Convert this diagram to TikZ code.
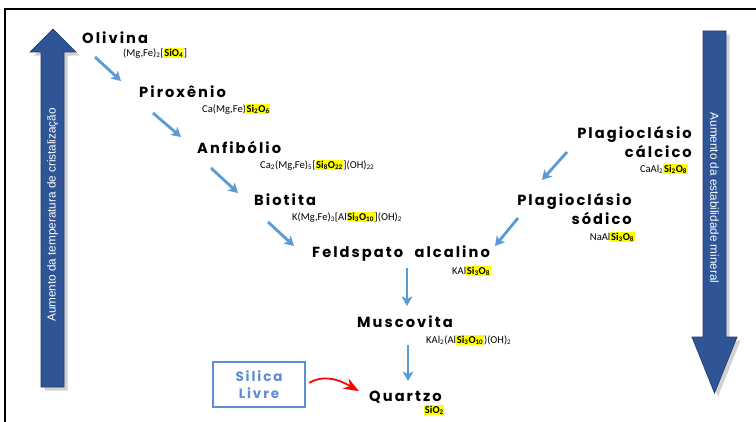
\documentclass[tikz,border=0pt]{standalone}
\usepackage{fontspec}
\usepackage{xcolor}
\usepackage{tikz}
\usetikzlibrary{arrows.meta,positioning,shadows}
\setmainfont{Carlito}
\newfontfamily\namefont[LetterSpace=14, WordSpace=2.2]{Poppins}
\newfontfamily\labelfont{Liberation Sans}
\definecolor{arrowblue}{RGB}{47, 85, 151}
\definecolor{flowblue}{RGB}{91, 155, 213}
\definecolor{boxblue}{RGB}{95, 140, 212}
\definecolor{hilite}{RGB}{255, 255, 0}
\newcommand{\hl}[1]{{\setlength{\fboxsep}{0.6pt}\colorbox{hilite}{\bfseries #1}}}

\begin{document}
\begin{tikzpicture}[x=0.03cm, y=-0.03cm,
    mineral/.style={font=\namefont\bfseries\fontsize{12.5}{15.5}\selectfont, inner sep=0pt},
    formula/.style={font=\fontsize{9}{10}\selectfont, inner sep=0pt},
    flow/.style={flowblue, line width=2.4pt, -{Stealth[length=8pt, width=9pt, inset=2pt]}},
    bigarrow/.style={fill=arrowblue, draw=arrowblue!70!black, line width=0.6pt,
        drop shadow={shadow xshift=3pt, shadow yshift=-3pt, opacity=0.35}},
    sidelabel/.style={font=\labelfont\fontsize{10}{12}\selectfont, text=white, inner sep=0pt}]
    \useasboundingbox (0,0) rectangle (756,422);
    \fill[white] (0,0) rectangle (756,422);
    \draw[line width=1.8pt] (5,9) rectangle (790,460);

    % side arrows
    \filldraw[bigarrow] (41,387) -- (41,52) -- (30,52) -- (53,29) -- (76,52) -- (64,52) -- (64,387) -- cycle;
    \node[sidelabel, rotate=90] (tempLabel) at (52.5,215) {Aumento da temperatura de cristalização};
    \filldraw[bigarrow] (703,31) -- (703,337) -- (692,337) -- (714.5,393) -- (737,337) -- (726,337) -- (726,31) -- cycle;
    \node[sidelabel, rotate=-90] (stabLabel) at (714.5,198) {Aumento da estabilidade mineral};

    % left branch
    \node[mineral, anchor=west] (olivina) at (82,38) {Olivina};
    \node[formula, anchor=west] (fOlivina) at (123,53) {(Mg,Fe)\textsubscript{2}[\hl{SiO\textsubscript{4}}]};
    \node[mineral, anchor=west] (piroxenio) at (139,92) {Piroxênio};
    \node[formula, anchor=west] (fPiroxenio) at (202,109) {Ca(Mg,Fe)\hl{Si\textsubscript{2}O\textsubscript{6}}};
    \node[mineral, anchor=west] (anfibolio) at (197,147) {Anfibólio};
    \node[formula, anchor=west] (fAnfibolio) at (260,165) {Ca\textsubscript{2}(Mg,Fe)\textsubscript{5}[\hl{Si\textsubscript{8}O\textsubscript{22}}](OH)\textsubscript{22}};
    \node[mineral, anchor=west] (biotita) at (254,200) {Biotita};
    \node[formula, anchor=west] (fBiotita) at (292,217) {K(Mg,Fe)\textsubscript{3}[Al\hl{Si\textsubscript{3}O\textsubscript{10}}](OH)\textsubscript{2}};

    % right branch
    \node[mineral, anchor=east, align=right] (plagCalcico) at (692,142) {Plagioclásio\\cálcico};
    \node[formula, anchor=east] (fPlagCalcico) at (688,169) {CaAl\textsubscript{2}\hl{Si\textsubscript{2}O\textsubscript{8}}};
    \node[mineral, anchor=east, align=right] (plagSodico) at (632,209) {Plagioclásio\\sódico};
    \node[formula, anchor=east] (fPlagSodico) at (635,237) {NaAl\hl{Si\textsubscript{3}O\textsubscript{8}}};

    % common branch
    \node[mineral, anchor=west] (feldspato) at (312,254) {Feldspato alcalino};
    \node[formula, anchor=west] (fFeldspato) at (452,271) {KAl\hl{Si\textsubscript{3}O\textsubscript{8}}};
    \node[mineral, anchor=west] (muscovita) at (357,322) {Muscovita};
    \node[formula, anchor=west] (fMuscovita) at (426,340) {KAl\textsubscript{2}(Al\hl{Si\textsubscript{3}O\textsubscript{10}})(OH)\textsubscript{2}};
    \node[mineral, anchor=west] (quartzo) at (369,397) {Quartzo};
    \node[formula, anchor=west] (fQuartzo) at (424,410) {\hl{SiO\textsubscript{2}}};

    \node[draw=boxblue, line width=2.2pt, minimum width=92*0.03cm, minimum height=45*0.03cm,
        align=center, text=boxblue, font=\namefont\bfseries\fontsize{11.5}{15}\selectfont] (silica) at (259,384.5) {Silica\\Livre};

    % arrow ends
    \coordinate (olivinaOut) at (95,57);     \coordinate (piroxenioIn) at (121,81);
    \coordinate (piroxenioOut) at (153,113); \coordinate (anfibolioIn) at (181,137);
    \coordinate (anfibolioOut) at (211,168); \coordinate (biotitaIn) at (238,193);
    \coordinate (biotitaOut) at (268,222);   \coordinate (feldspatoInL) at (294,246);
    \coordinate (calcicoOut) at (567,152);   \coordinate (sodicoIn) at (542,180);
    \coordinate (sodicoOut) at (518,218);    \coordinate (feldspatoInR) at (495,246);
    \coordinate (feldspatoOut) at (407,268); \coordinate (muscovitaIn) at (407,306);
    \coordinate (muscovitaOut) at (408,345); \coordinate (quartzoIn) at (408,381);

    \draw[flow] (olivinaOut) -- (piroxenioIn);
    \draw[flow] (piroxenioOut) -- (anfibolioIn);
    \draw[flow] (anfibolioOut) -- (biotitaIn);
    \draw[flow] (biotitaOut) -- (feldspatoInL);
    \draw[flow] (calcicoOut) -- (sodicoIn);
    \draw[flow] (sodicoOut) -- (feldspatoInR);
    \draw[flow] (feldspatoOut) -- (muscovitaIn);
    \draw[flow] (muscovitaOut) -- (quartzoIn);

    \draw[red, line width=1.5pt, -{Stealth[length=13pt, width=10pt]}, shorten <=3pt, shorten >=10pt]
        (silica.east) to[out=30, in=150] (quartzo.west);
\end{tikzpicture}
\end{document}
